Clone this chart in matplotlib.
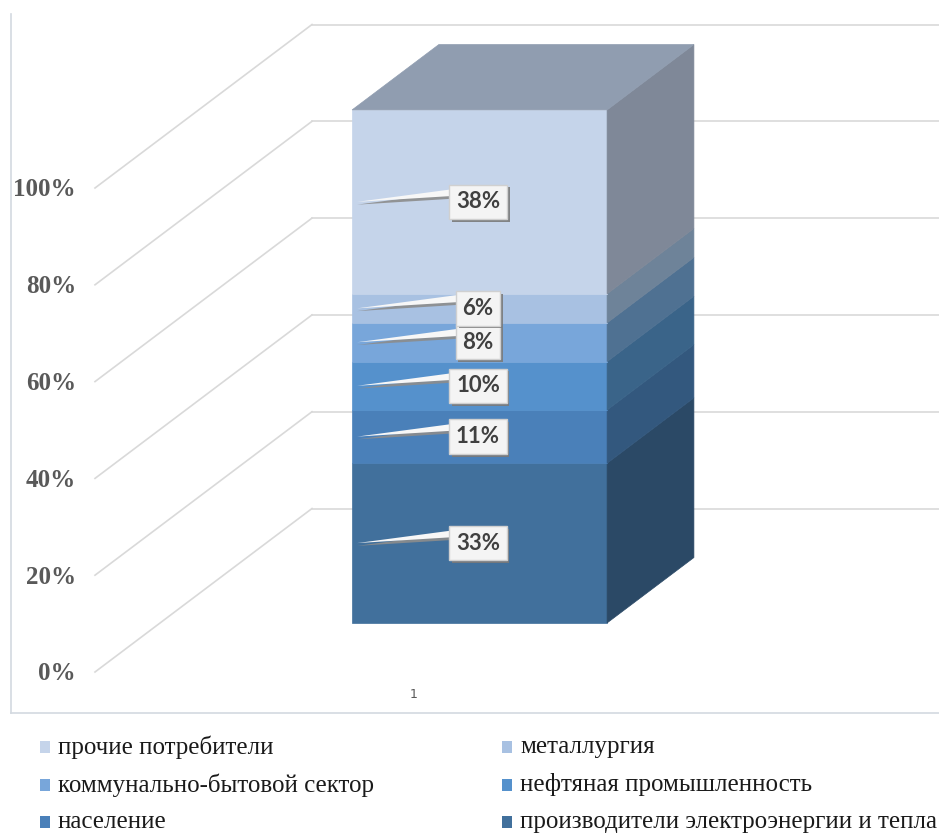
import matplotlib
matplotlib.use("Agg")
import matplotlib.pyplot as plt
import matplotlib.patheffects as pe
from matplotlib.patches import Polygon, Rectangle

# Stack order, bottom to top
sectors = [
    "производители электроэнергии и тепла",
    "население",
    "нефтяная промышленность",
    "коммунально-бытовой сектор",
    "металлургия",
    "прочие потребители",
]
shares = [33, 11, 10, 8, 6, 38]
front_colors = ["#41709c", "#4a80b9", "#5591cc", "#78a6da", "#a8c1e2", "#c5d4ea"]
side_colors = ["#2b4966", "#33587e", "#3a6489", "#4f7192", "#6e8399", "#7f8898"]
top_color = "#909db0"

ticks = [0, 20, 40, 60, 80, 100]
tick_labels = ["0%", "20%", "40%", "60%", "80%", "100%"]
category = "1"

# Canvas / oblique projection setup (pixels)
W, H = 939, 834
PX = 4.84            # pixels per percent
Y0 = 672             # pixel row of 0% on the front plane
DX = 217             # horizontal shift of the full depth
DY = 163.5 / PX      # vertical shift of the full depth, in percent units
FLOOR_X = 95         # front-left corner of the floor
BAR_X, BAR_W = 287, 255
D0, D1 = 0.3, 0.7    # bar depth range (fraction of full depth)


def row(py):
    """Pixel row -> data value."""
    return (Y0 - py) / PX


fig = plt.figure(figsize=(W / 100, H / 100), dpi=100)
ax = fig.add_axes([0, 0, 1, 1])
ax.set_xlim(0, W)
ax.set_ylim(row(H), row(0))
ax.axis("off")

# plot area border
border = "#d3d9e0"
ax.plot([11, 11], [row(14), row(713)], color=border, lw=1.2)
ax.plot([11, W], [row(713), row(713)], color=border, lw=1.2)

# side wall / back wall gridlines
grid = "#d9d9d9"
for v, lab in zip(ticks, tick_labels):
    ax.plot([FLOOR_X, FLOOR_X + DX], [v, v + DY], color=grid, lw=1.2, zorder=1)
    ax.plot([FLOOR_X + DX, W], [v + DY, v + DY], color=grid, lw=1.2, zorder=1)
    ax.text(76, v - 0.4, lab, ha="right", va="center", fontsize=18,
            fontweight="bold", family="Liberation Serif", color="#595959")

# stacked 3D column
xl0 = BAR_X + D0 * DX
xr0 = BAR_X + BAR_W + D0 * DX
xl1 = BAR_X + D1 * DX
xr1 = BAR_X + BAR_W + D1 * DX
lo = 0
centers = []
for val, fc, sc in zip(shares, front_colors, side_colors):
    hi = lo + val
    ax.add_patch(Rectangle((xl0, lo + D0 * DY), BAR_W, val, fc=fc, ec=fc,
                           lw=0.5, zorder=3))
    ax.add_patch(Polygon([(xr0, lo + D0 * DY), (xr1, lo + D1 * DY),
                          (xr1, hi + D1 * DY), (xr0, hi + D0 * DY)],
                         closed=True, fc=sc, ec=sc, lw=0.5, zorder=3))
    centers.append((lo + hi) / 2 + D0 * DY)
    lo = hi
total = lo
ax.add_patch(Polygon([(xl0, total + D0 * DY), (xl1, total + D1 * DY),
                      (xr1, total + D1 * DY), (xr0, total + D0 * DY)],
                     closed=True, fc=top_color, ec=top_color, lw=0.5, zorder=3))

# callout labels
box_x = 478
for val, cy in zip(shares, centers):
    wedge = Polygon([(xl0 + 5, cy), (box_x - 8, cy + 15 / PX), (box_x - 8, cy + 7 / PX)],
                    closed=True, fc="#f7f7f7", ec="none", zorder=4)
    wedge.set_path_effects([pe.SimplePatchShadow(offset=(0, -2), shadow_rgbFace="#8c8c8c",
                                                 alpha=0.9), pe.Normal()])
    ax.add_patch(wedge)
    t = ax.text(box_x, cy, f"{val}%", ha="center", va="center", fontsize=16,
                fontweight="bold", family="Lato", color="#404040", zorder=5,
                bbox=dict(boxstyle="square,pad=0.3", fc="#f4f4f4", ec="#d0d0d0", lw=1))
    t.get_bbox_patch().set_path_effects([
        pe.SimplePatchShadow(offset=(2, -2), shadow_rgbFace="#7a7a7a", alpha=0.9),
        pe.Normal()])

# category label
ax.text(xl0 + BAR_W / 2 - 66, row(695), category, ha="center", va="center",
        fontsize=9, color="#595959", family="DejaVu Sans")

# legend, two columns, reversed stack order
legend_items = list(zip(sectors, front_colors))[::-1]
col_x = [40, 502]
row_y = [747, 785, 822]
for i, (name, c) in enumerate(legend_items):
    x = col_x[i % 2]
    y = row_y[i // 2]
    ax.add_patch(Rectangle((x, row(y + 6)), 10, 12 / PX, fc=c, ec="none"))
    ax.text(x + 18, row(y), name, ha="left", va="center", fontsize=18,
            family="Liberation Serif", color="#1a1a1a")

fig.savefig("out.png", dpi=100)
